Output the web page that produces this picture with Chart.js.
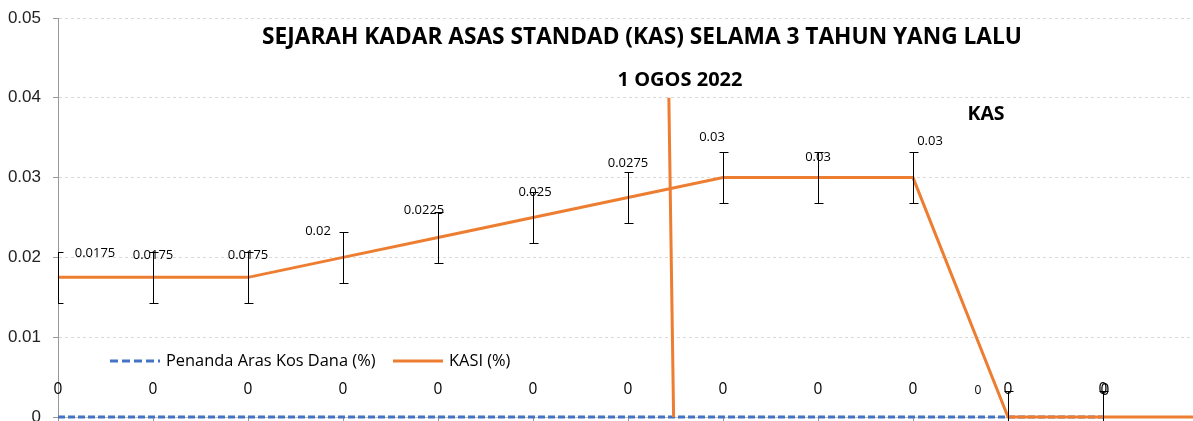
<!DOCTYPE html>
<html lang="ms">

<head>
    <meta charset="utf8" />
    <script src="https://cdnjs.cloudflare.com/ajax/libs/Chart.js/4.4.1/chart.umd.min.js"></script>
    <title>Sejarah KAS</title>
    <style>
        html, body { margin: 0; padding: 0; background: #fff; overflow: hidden; }
        /* plot runs a few px past the right edge, like the original crop */
        #wrap { width: 1198px; height: 421px; position: relative; }
    </style>
</head>

<body>
    <div id="wrap"><canvas id="kasChart"></canvas></div>

    <script>
        // chart data
        const categories = ['Mac 2020', 'Jun 2020', 'Sep 2020', 'Dis 2020', 'Mac 2021', 'Jun 2021', 'Sep 2021',
            'Dis 2021', 'Mac 2022', 'Jun 2022', 'Sep 2022', 'Dis 2022', 'Mac 2023'];
        const kasi = [0.0175, 0.0175, 0.0175, 0.02, 0.0225, 0.025, 0.0275, 0.03, 0.03, 0.03, 0, 0, 0];
        const kasiError = [0.0032, 0.0032, 0.0032, 0.0032, 0.0032, 0.0032, 0.0032, 0.0032, 0.0032, 0.0032, 0.0032, 0.0032, 0.0032];
        const penanda = [0, 0, 0, 0, 0, 0, 0, 0, 0, 0, 0, 0, null];
        const ogosMarker = [{ x: 6.43, y: 0.04 }, { x: 6.48, y: 0 }];
        const yTicks = [0, 0.01, 0.02, 0.03, 0.04, 0.05];

        // label nudges (px) so the value labels sit like the original
        const kasiLabelShift = [[37, -24], [0, -22], [0, -22], [-25, -26], [-14, -27], [2, -25], [0, -34],
            [-11, -40], [0, -20], [17, -36], [-30, -26], [2, -26], [30, -26]];

        const BLUE = '#4472C4';
        const ORANGE = '#ED7D31';
        const TXT = "'Open Sans', sans-serif";

        // error bars + data labels + title text + legend
        const extras = {
            id: 'extras',
            afterDatasetsDraw(chart) {
                const ctx = chart.ctx;
                const x = chart.scales.x, y = chart.scales.y;
                const area = chart.chartArea;

                // error bars on KASI
                ctx.save();
                ctx.beginPath();
                ctx.rect(area.left, 0, area.right - area.left, chart.height);
                ctx.clip();
                ctx.strokeStyle = '#000';
                ctx.lineWidth = 1;
                kasi.forEach((v, i) => {
                    const px = Math.round(x.getPixelForValue(i)) + 0.5;
                    const top = Math.round(y.getPixelForValue(v + kasiError[i])) + 0.5;
                    const bot = Math.round(y.getPixelForValue(v - kasiError[i])) + 0.5;
                    ctx.beginPath();
                    ctx.moveTo(px, top); ctx.lineTo(px, bot);
                    ctx.moveTo(px - 4, top); ctx.lineTo(px + 5, top);
                    ctx.moveTo(px - 4, bot); ctx.lineTo(px + 5, bot);
                    ctx.stroke();
                });
                ctx.restore();

                ctx.save();
                ctx.textAlign = 'center';
                ctx.textBaseline = 'middle';
                ctx.fillStyle = '#000';

                // penanda labels
                ctx.font = '15.5px ' + TXT;
                penanda.forEach((v, i) => {
                    if (v === null) return;
                    ctx.fillText(String(v), x.getPixelForValue(i), y.getPixelForValue(v) - 27);
                });

                // KASI labels
                kasi.forEach((v, i) => {
                    const [dx, dy] = kasiLabelShift[i];
                    ctx.font = (i === 10 ? '12px ' : (v === 0 ? '15.5px ' : '13px ')) + TXT;
                    ctx.fillText(String(v), x.getPixelForValue(i) + dx, y.getPixelForValue(v) + dy);
                });

                // title and notes
                ctx.font = 'bold 22.7px ' + TXT;
                ctx.fillText('SEJARAH KADAR ASAS STANDAD (KAS) SELAMA 3 TAHUN YANG LALU', 642, 38);
                ctx.font = 'bold 20px ' + TXT;
                ctx.fillText('1 OGOS 2022', 680, 80);
                ctx.font = 'bold 19.5px ' + TXT;
                ctx.fillText('KAS', 986, 114);

                // legend
                const legendItems = [
                    { label: chart.data.datasets[0].label, color: BLUE, dash: [8, 4], x: 110 },
                    { label: chart.data.datasets[1].label, color: ORANGE, dash: [], x: 393 }
                ];
                ctx.textAlign = 'left';
                ctx.font = '16.4px ' + TXT;
                legendItems.forEach(it => {
                    ctx.strokeStyle = it.color;
                    ctx.lineWidth = 3;
                    ctx.setLineDash(it.dash);
                    ctx.beginPath();
                    ctx.moveTo(it.x, 361); ctx.lineTo(it.x + 50, 361);
                    ctx.stroke();
                    ctx.setLineDash([]);
                    ctx.fillStyle = '#000';
                    ctx.fillText(it.label, it.x + 56, 361);
                });
                ctx.restore();
            }
        };

        document.addEventListener('DOMContentLoaded', () => {
            const ctx = document.getElementById('kasChart').getContext('2d');

            new Chart(ctx, {
                type: 'line',
                data: {
                    labels: categories,
                    datasets: [
                        {
                            label: 'Penanda Aras Kos Dana (%)',
                            data: penanda,
                            borderColor: BLUE,
                            borderWidth: 3,
                            borderDash: [7, 3],
                            pointRadius: 0,
                            clip: 4,
                            order: 3
                        },
                        {
                            label: 'KASI (%)',
                            data: kasi,
                            borderColor: ORANGE,
                            borderWidth: 3,
                            pointRadius: 0,
                            clip: 4,
                            order: 2
                        },
                        {
                            label: '1 Ogos 2022',
                            data: ogosMarker,
                            xAxisID: 'x2',
                            borderColor: ORANGE,
                            borderWidth: 3,
                            pointRadius: 0,
                            clip: 4,
                            order: 1
                        }
                    ]
                },
                options: {
                    responsive: true,
                    maintainAspectRatio: false,
                    animation: false,
                    layout: { padding: { top: 18, right: 0, left: 0, bottom: 0 } },
                    scales: {
                        x: {
                            offset: false,
                            afterFit: (scale) => { scale.height = 4; },
                            grid: {
                                drawOnChartArea: false,
                                drawTicks: true,
                                tickLength: 4,
                                color: '#999'
                            },
                            border: { color: '#bfbfbf' },
                            ticks: { display: false }
                        },
                        x2: {
                            type: 'linear',
                            display: false,
                            min: 0,
                            max: categories.length - 1
                        },
                        y: {
                            min: 0,
                            max: 0.05,
                            afterBuildTicks: (scale) => { scale.ticks = yTicks.map(v => ({ value: v })); },
                            afterFit: (scale) => {
                                scale.width = 58;
                                scale.paddingTop = 0;
                                scale.paddingBottom = 0;
                            },
                            grid: {
                                color: '#d9d9d9',
                                tickColor: '#999',
                                tickLength: 5,
                                tickBorderDash: []
                            },
                            border: { color: '#999', dash: [3, 3] },
                            ticks: {
                                color: '#222',
                                padding: 12,
                                font: { family: "'Liberation Sans', Arial, sans-serif", size: 17 },
                                callback: v => String(v)
                            }
                        }
                    },
                    plugins: {
                        legend: { display: false },
                        tooltip: { enabled: false }
                    }
                },
                plugins: [extras]
            });
        });
    </script>
</body>

</html>
